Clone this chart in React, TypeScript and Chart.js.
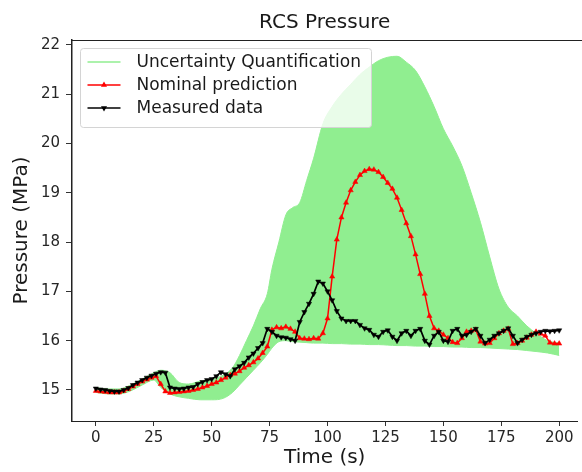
import React, { useEffect, useRef } from 'react';
import { Chart, registerables } from 'chart.js';

Chart.register(...registerables);

const chartTitle = 'RCS Pressure';
const xTitle = 'Time (s)';
const yTitle = 'Pressure (MPa)';

const seriesLabels = ['Uncertainty Quantification', 'Nominal prediction', 'Measured data'];

const timeSteps = [
  0, 2, 4, 6, 8, 10, 12, 14, 16, 18, 20, 22, 24, 26, 28, 30, 32, 34, 36, 38,
  40, 42, 44, 46, 48, 50, 52, 54, 56, 58, 60, 62, 64, 66, 68, 70, 72, 74, 76, 78,
  80, 82, 84, 86, 88, 90, 92, 94, 96, 98, 100, 102, 104, 106, 108, 110, 112, 114, 116, 118,
  120, 122, 124, 126, 128, 130, 132, 134, 136, 138, 140, 142, 144, 146, 148, 150, 152, 154, 156, 158,
  160, 162, 164, 166, 168, 170, 172, 174, 176, 178, 180, 182, 184, 186, 188, 190, 192, 194, 196, 198, 200,
];

const nominal = [
  14.98, 14.97, 14.96, 14.95, 14.95, 14.95, 14.98, 15.02, 15.07, 15.12, 15.17, 15.21, 15.25, 15.28,
  15.12, 14.97, 14.94, 14.95, 14.96, 14.97, 14.98, 15.0, 15.02, 15.05, 15.08, 15.12, 15.15, 15.2,
  15.25, 15.3, 15.33, 15.38, 15.45, 15.5, 15.56, 15.64, 15.75, 15.88, 16.22, 16.27, 16.25, 16.28,
  16.24, 16.18, 16.05, 16.04, 16.03, 16.05, 16.04, 16.15, 16.45, 17.3, 18.05, 18.5, 18.8, 19.05,
  19.22, 19.36, 19.44, 19.48, 19.47, 19.42, 19.32, 19.2, 19.08, 18.9, 18.65, 18.38, 18.12, 17.75,
  17.35, 16.95, 16.5, 16.25, 16.2, 16.12, 16.05, 15.97, 15.95, 16.05, 16.18, 16.2, 16.22, 15.98,
  15.94, 15.95, 16.05, 16.15, 16.2, 16.24, 15.93, 15.95, 16.0, 16.06, 16.12, 16.18, 16.14, 16.1,
  15.96, 15.94, 15.94,
];

const measured = [
  15.03, 15.01, 15.0, 14.98, 14.97, 14.97, 15.0, 15.04, 15.1, 15.15, 15.2, 15.25, 15.29, 15.33,
  15.36, 15.35, 15.05, 15.03, 15.02, 15.03, 15.05, 15.06, 15.12, 15.16, 15.2, 15.22, 15.28, 15.36,
  15.32, 15.28, 15.42, 15.48, 15.55, 15.66, 15.74, 15.85, 15.95, 16.24, 16.18, 16.1, 16.07, 16.06,
  16.03, 16.0, 16.38, 16.58, 16.75, 16.95, 17.2, 17.16, 17.0, 16.82, 16.6, 16.45, 16.4, 16.4,
  16.4, 16.32, 16.25, 16.22, 16.12, 16.08, 16.18, 16.21, 16.08, 16.0, 16.15, 16.2, 16.1, 16.2,
  16.24, 16.0, 15.92, 16.1, 16.18, 16.0, 15.98, 16.2, 16.24, 16.1, 16.12, 16.18, 16.24, 16.1,
  15.95, 16.02, 16.1, 16.15, 16.2, 16.25, 16.1, 15.95, 16.02, 16.08, 16.12, 16.15, 16.18, 16.2,
  16.19, 16.2, 16.21,
];

const bandTime = [
  0, 5, 10, 15, 20, 25,
  28, 32, 36, 40, 45, 50, 55, 59,
  62, 65, 68, 71, 74, 76, 79, 82, 85, 88, 91, 94, 98,
  102, 106, 110, 114, 118, 122, 126, 130, 134, 138, 142, 146, 150,
  154, 158, 162, 166, 170, 174, 178, 182, 186, 190, 195, 200,
];

const bandUpper = [
  15.05, 15.02, 15.02, 15.1, 15.22, 15.35,
  15.4, 15.35, 15.15, 15.12, 15.18, 15.22, 15.3, 15.45,
  15.7, 16.0, 16.3, 16.65, 16.95, 17.45, 18.0, 18.55, 18.7, 18.8, 19.25, 19.7, 20.4,
  20.75, 21.0, 21.2, 21.4, 21.55, 21.68, 21.75, 21.77, 21.65, 21.48, 21.15, 20.75, 20.3,
  19.95, 19.55, 19.0, 18.4, 17.7, 17.05, 16.68, 16.5, 16.3, 16.15, 16.0, 15.95,
];

const bandLower = [
  14.95, 14.92, 14.92, 14.98, 15.1, 15.2,
  15.05, 14.92, 14.86, 14.83, 14.8, 14.8, 14.83, 14.95,
  15.1, 15.25, 15.4, 15.55, 15.72, 15.85, 15.98, 16.0, 15.98, 15.97, 15.96, 15.95, 15.95,
  15.94, 15.94, 15.93, 15.93, 15.92, 15.92, 15.91, 15.9, 15.9, 15.89, 15.89, 15.88, 15.88,
  15.87, 15.87, 15.86, 15.86, 15.85, 15.84, 15.83, 15.82, 15.8, 15.78, 15.75, 15.7,
];

const GREEN = '#90EE90';
const RED = '#ff0000';
const BLACK = '#000000';
const FONT = "'DejaVu Sans', 'Liberation Sans', sans-serif";

const xy = (xs: number[], ys: number[]) => xs.map((x, i) => ({ x, y: ys[i] }));

function drawTri(ctx: CanvasRenderingContext2D, x: number, y: number, r: number, rotDeg: number) {
  let rad = (rotDeg * Math.PI) / 180;
  const step = (2 * Math.PI) / 3;
  ctx.beginPath();
  ctx.moveTo(x + Math.sin(rad) * r, y - Math.cos(rad) * r);
  rad += step;
  ctx.lineTo(x + Math.sin(rad) * r, y - Math.cos(rad) * r);
  rad += step;
  ctx.lineTo(x + Math.sin(rad) * r, y - Math.cos(rad) * r);
  ctx.closePath();
  ctx.fill();
}

const framePlugin = {
  id: 'frameTop',
  afterDraw(chart: any) {
    const { ctx, chartArea } = chart;
    ctx.save();
    ctx.strokeStyle = '#222';
    ctx.lineWidth = 1;
    ctx.beginPath();
    ctx.moveTo(chartArea.left, Math.round(chartArea.top) + 0.5);
    ctx.lineTo(chart.width, Math.round(chartArea.top) + 0.5);
    ctx.stroke();
    ctx.restore();
  },
};

const legendBoxPlugin = {
  id: 'legendBox',
  afterDraw(chart: any) {
    const { ctx, chartArea } = chart;
    const ds = chart.data.datasets;
    const entries = [ds[2], ds[1], ds[0]];
    const bx = chartArea.left + 8.5;
    const by = chartArea.top + 8.5;
    const bw = 291;
    const bh = 79;
    ctx.save();
    ctx.beginPath();
    ctx.roundRect(bx, by, bw, bh, 3);
    ctx.fillStyle = 'rgba(255,255,255,0.8)';
    ctx.fill();
    ctx.strokeStyle = '#d4d4d4';
    ctx.lineWidth = 1;
    ctx.stroke();
    ctx.font = `17px ${FONT}`;
    ctx.textBaseline = 'middle';
    ctx.textAlign = 'left';
    entries.forEach((d: any, i: number) => {
      const y = by + 13.5 + i * 23;
      const x0 = bx + 7;
      const x1 = bx + 40;
      ctx.strokeStyle = d.borderColor;
      ctx.lineWidth = 1.5;
      ctx.beginPath();
      ctx.moveTo(x0, y);
      ctx.lineTo(x1, y);
      ctx.stroke();
      if (d.pointRadius > 0) {
        ctx.fillStyle = d.borderColor;
        drawTri(ctx, (x0 + x1) / 2, y, 3.5, d.pointRotation || 0);
      }
      ctx.fillStyle = '#1a1a1a';
      ctx.fillText(d.label, bx + 56, y + 1);
    });
    ctx.restore();
  },
};

export default function App() {
  const ref = useRef<HTMLCanvasElement>(null);
  useEffect(() => {
    if (!ref.current) return;
    Chart.defaults.font.family = FONT;
    const chart = new Chart(ref.current, {
      type: 'line',
      data: {
        datasets: [
          {
            label: seriesLabels[2],
            data: xy(timeSteps, measured),
            borderColor: BLACK,
            backgroundColor: BLACK,
            borderWidth: 1.7,
            pointStyle: 'triangle',
            pointRotation: 180,
            pointRadius: 3,
            pointBorderWidth: 0.5,
            fill: false,
            tension: 0,
            order: 0,
          },
          {
            label: seriesLabels[1],
            data: xy(timeSteps, nominal),
            borderColor: RED,
            backgroundColor: RED,
            borderWidth: 1.5,
            pointStyle: 'triangle',
            pointRotation: 0,
            pointRadius: 3,
            pointBorderWidth: 0.5,
            fill: false,
            tension: 0,
            order: 1,
          },
          {
            label: seriesLabels[0],
            data: xy(bandTime, bandUpper),
            borderColor: GREEN,
            backgroundColor: GREEN,
            borderWidth: 1,
            pointRadius: 0,
            fill: '+1',
            cubicInterpolationMode: 'monotone',
            order: 2,
          },
          {
            label: '',
            data: xy(bandTime, bandLower),
            borderColor: GREEN,
            backgroundColor: GREEN,
            borderWidth: 1,
            pointRadius: 0,
            fill: false,
            cubicInterpolationMode: 'monotone',
            order: 3,
          },
        ],
      } as any,
      options: {
        animation: false,
        responsive: false,
        maintainAspectRatio: false,
        layout: { padding: 0 },
        plugins: {
          legend: { display: false },
          tooltip: { enabled: false },
          title: {
            display: true,
            text: chartTitle,
            fullSize: false,
            color: '#1a1a1a',
            font: { size: 20, weight: 'normal', family: FONT },
            padding: { top: 11, bottom: 5 },
          },
        },
        scales: {
          x: {
            type: 'linear',
            min: -10.3,
            max: 207.9,
            afterFit: (s: any) => { s.height = 51; },
            ticks: {
              stepSize: 25,
              includeBounds: false,
              color: '#262626',
              font: { size: 15, family: FONT },
              padding: 3,
              maxRotation: 0,
            },
            grid: {
              drawOnChartArea: false,
              drawTicks: true,
              tickLength: 5,
              tickColor: '#333',
              tickWidth: 1,
            },
            border: { display: true, color: '#222', width: 1 },
            title: {
              display: true,
              text: xTitle,
              color: '#1a1a1a',
              font: { size: 20, family: FONT },
              padding: { top: 0, bottom: 2 },
            },
          },
          y: {
            type: 'linear',
            min: 14.37,
            max: 22.1,
            afterFit: (s: any) => { s.width = 72; },
            ticks: {
              stepSize: 1,
              includeBounds: false,
              color: '#262626',
              font: { size: 15, family: FONT },
              padding: 6,
            },
            grid: {
              drawOnChartArea: false,
              drawTicks: true,
              tickLength: 6,
              tickColor: '#333',
              tickWidth: 1,
            },
            border: { display: true, color: '#222', width: 1.5 },
            title: {
              display: true,
              text: yTitle,
              color: '#1a1a1a',
              font: { size: 20, family: FONT },
              padding: { top: 10, bottom: 0 },
            },
          },
        },
      } as any,
      plugins: [framePlugin, legendBoxPlugin],
    });
    return () => chart.destroy();
  }, []);
  return (
    <div style={{ position: 'fixed', left: 0, top: 0, width: 582, height: 472, background: '#fff' }}>
      <canvas ref={ref} width={582} height={472} style={{ width: 582, height: 472, display: 'block' }} />
    </div>
  );
}
